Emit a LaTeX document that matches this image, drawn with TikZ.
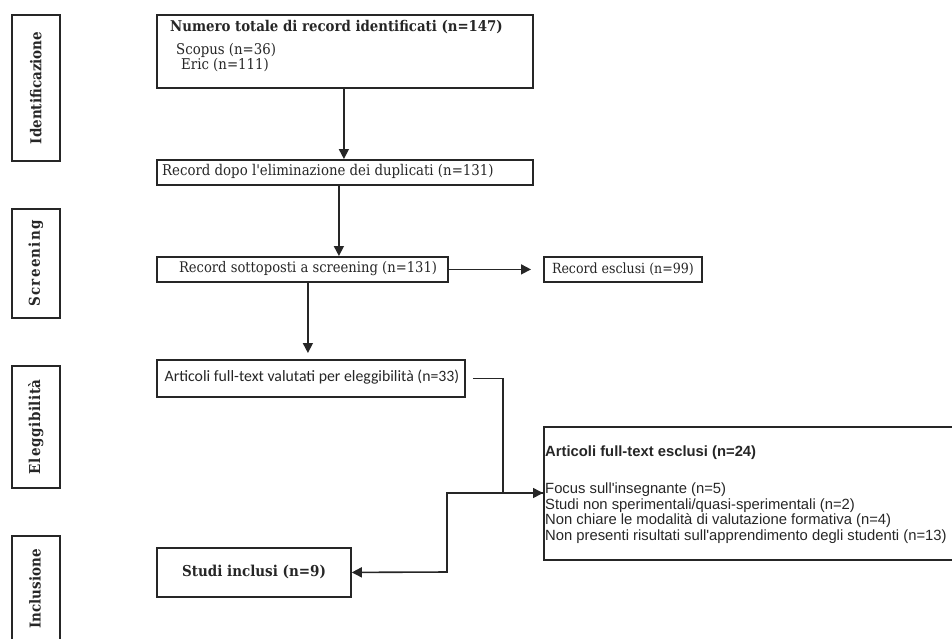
\documentclass[tikz,border=0pt]{standalone}
\usepackage{fontspec}
\setmainfont{DejaVu Serif Condensed}
\newfontfamily\narrowsans{Carlito}
\newfontfamily\plainsans{Liberation Sans}
\usetikzlibrary{arrows.meta}
\definecolor{ink}{HTML}{262626}
\tikzset{
  box/.style={draw=ink, line width=1.8pt, rectangle, inner sep=0pt, anchor=north west},
  txt/.style={inner sep=0pt, text=ink, font=\fontsize{14.8}{17}\selectfont},
  rowtxt/.style={inner sep=0pt, text=ink, anchor=west, font=\fontsize{14.8}{17}\selectfont\plainsans},
  phase/.style={inner sep=0pt, text=ink, rotate=90, font=\fontsize{15}{17}\selectfont\bfseries},
  arr/.style={draw=ink, line width=1.6pt, -{Triangle[length=10pt,width=10pt]}},
}
\begin{document}
\begin{tikzpicture}[x=1pt,y=-1pt]
\useasboundingbox (0,0) rectangle (952,638);
% phase boxes
\node[box, minimum width=48pt, minimum height=146pt] (pid) at (11,14) {};
\node[box, minimum width=48pt, minimum height=109pt] (pscr) at (11,208) {};
\node[box, minimum width=48pt, minimum height=122pt] (pele) at (11,365) {};
\node[box, minimum width=48pt, minimum height=120pt] (pinc) at (11,535) {};
\node[phase] (lid) at (pid.center) {Identificazione};
\node[phase] (lscr) at (pscr.center) {S\kern1.2pt c\kern1.2pt r\kern1.2pt e\kern1.2pt e\kern1.2pt n\kern1.2pt i\kern1.2pt n\kern1.2pt g};
\node[phase] (lele) at (pele.center) {E\kern1pt l\kern1pt e\kern1pt g\kern0.5pt g\kern0.5pt i\kern0.5pt b\kern0.5pt i\kern0.5pt l\kern0.5pt i\kern0.5pt t\kern0.5pt à};
\node[phase] (linc) at (35,589) {Inclusione};
% main boxes
\node[box, minimum width=376pt, minimum height=73pt] (tot) at (156,14) {};
\node[txt, anchor=west, font=\fontsize{14.8}{17}\selectfont\bfseries] (ttot) at (170,27) {Numero totale di record identificati (n=147)};
\node[txt, anchor=west] (tsco) at (176,50) {Scopus (n=36)};
\node[txt, anchor=west] (teri) at (181,65) {Eric (n=111)};
\node[box, minimum width=376pt, minimum height=25pt] (dup) at (156,159) {};
\node[txt, anchor=west] (tdup) at (162,171.5) {Record dopo l\textquotesingle eliminazione dei duplicati (n=131)};
\node[box, minimum width=291pt, minimum height=25pt] (scr) at (156,256) {};
\node[txt, font=\fontsize{14.6}{17}\selectfont] (tscr) at (308,268.5) {Record sottoposti a screening (n=131)};
\node[box, minimum width=158pt, minimum height=25pt] (ex1) at (543,256) {};
\node[txt, font=\fontsize{14}{17}\selectfont] (tex1) at (ex1.center) {Record esclusi (n=99)};
\node[box, minimum width=308pt, minimum height=37pt] (full) at (156,359) {};
\node[txt, font=\fontsize{15.8}{17}\selectfont\narrowsans] (tfull) at (312,377.5) {Articoli full-text valutati per eleggibilità (n=33)};
\node[box, minimum width=420pt, minimum height=133pt] (ex2) at (543,426) {};
\node[rowtxt, font=\fontsize{14.8}{17}\selectfont\plainsans\bfseries] (tex2) at (545,453) {Articoli full-text esclusi (n=24)};
\node[rowtxt] (r1) at (545,490) {Focus sull\textquotesingle insegnante (n=5)};
\node[rowtxt] (r2) at (545,505.5) {Studi non sperimentali/quasi-sperimentali (n=2)};
\node[rowtxt] (r3) at (545,521) {Non chiare le modalità di valutazione formativa (n=4)};
\node[rowtxt] (r4) at (545,537) {Non presenti risultati sull\textquotesingle apprendimento degli studenti (n=13)};
\node[box, minimum width=194pt, minimum height=49pt] (inc) at (156,547) {};
\node[txt, font=\fontsize{15}{17}\selectfont\bfseries] (tinc) at (254,571.5) {Studi inclusi (n=9)};
% connectors
\draw[arr] ([xshift=-1pt]tot.south) -- ([xshift=-1pt]tot.south |- dup.north);
\draw[arr] ([xshift=-6pt]dup.south) -- ([xshift=-6pt]dup.south |- scr.north);
\draw[arr, shorten >=12pt] (scr.east) -- (ex1.west);
\draw[arr, shorten >=6pt] ([xshift=5.5pt]scr.south) -- ([xshift=5.5pt]scr.south |- full.north);
\draw[arr, shorten <=7pt] (full.east) -- ++(37,0) |- ([yshift=-3pt]ex2.west |- r1.west);
\draw[arr] (ex2.west |- 0,493) -| (447,572) -- (inc.east);
\end{tikzpicture}
\end{document}
